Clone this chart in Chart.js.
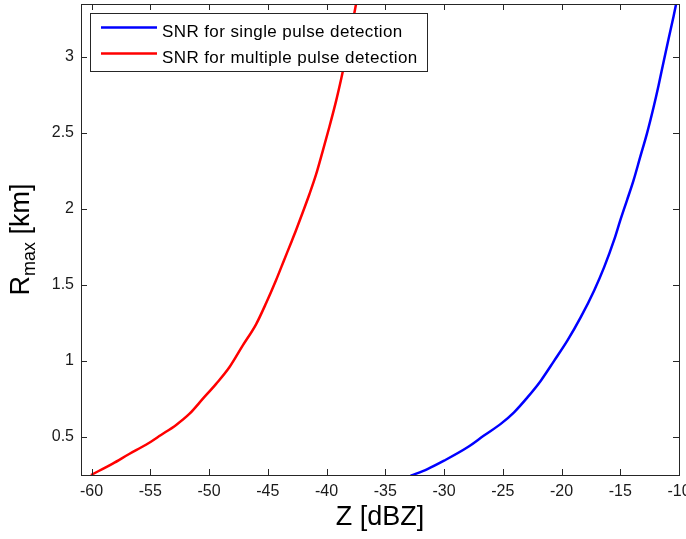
<!DOCTYPE html>
<html>
<head>
<meta charset="utf-8">
<script src="https://cdn.jsdelivr.net/npm/chart.js@4.4.1/dist/chart.umd.min.js"></script>
<style>
    html, body { margin: 0; padding: 0; background: #fff; }
    #wrap { width: 686px; height: 539px; }
</style>
</head>
<body>
<div id="wrap"><canvas id="chartRmax"></canvas></div>
<script>
// Curva azul: SNR para detección de pulso simple (Z en dBZ, R en km)
const zSingle = [-32.84, -31.41, -30.0, -28.0, -26.6, -25.17, -24.04, -22.9, -21.76, -20.63, -19.49, -18.36, -17.22, -16.37, -15.5, -15.0, -14.43, -13.87, -13.3, -12.73, -12.16, -11.74, -11.31, -10.89, -10.46, -10.1];
const rSingle = [0.245, 0.289, 0.344, 0.432, 0.509, 0.586, 0.662, 0.76, 0.87, 1.0, 1.134, 1.287, 1.463, 1.616, 1.80, 1.923, 2.055, 2.186, 2.34, 2.493, 2.668, 2.81, 2.966, 3.115, 3.265, 3.40];

// Curva roja: SNR para detección de pulsos múltiples
const zMultiple = [-60.05, -58.2, -56.8, -55.37, -54.09, -52.8, -51.68, -50.54, -49.4, -48.27, -47.14, -46.0, -45.14, -44.3, -43.6, -43.0, -42.59, -42.03, -41.46, -40.89, -40.32, -39.75, -39.18, -38.76, -38.4, -37.77, -37.45];
const rMultiple = [0.25, 0.325, 0.388, 0.449, 0.513, 0.579, 0.651, 0.75, 0.849, 0.958, 1.10, 1.24, 1.38, 1.53, 1.665, 1.78, 1.86, 1.975, 2.095, 2.225, 2.38, 2.54, 2.71, 2.85, 2.98, 3.23, 3.36];

// Ticks de los ejes
const xTickValues = [-60, -55, -50, -45, -40, -35, -30, -25, -20, -15, -10];
const yTickValues = [0.5, 1, 1.5, 2, 2.5, 3];

const labelSingle = 'SNR for single pulse detection';
const labelMultiple = 'SNR for multiple pulse detection';

const FONT = 'Liberation Sans, Arial, Helvetica, sans-serif';
const AXIS_COLOR = '#262626';

// Marco tipo MATLAB: caja, ticks hacia adentro, leyenda y título Y con subíndice
const marcoEjes = {
    id: 'marcoEjes',
    afterDatasetsDraw(chart) {
        const { ctx, chartArea: a, scales } = chart;
        ctx.save();
        ctx.strokeStyle = AXIS_COLOR;
        ctx.lineWidth = 1;
        ctx.strokeRect(a.left + 0.5, a.top + 0.5, a.right - a.left, a.bottom - a.top);

        ctx.beginPath();
        scales.x.ticks.forEach(t => {
            const px = Math.round(scales.x.getPixelForValue(t.value)) + 0.5;
            ctx.moveTo(px, a.bottom);
            ctx.lineTo(px, a.bottom - 6);
            ctx.moveTo(px, a.top);
            ctx.lineTo(px, a.top + 6);
        });
        scales.y.ticks.forEach(t => {
            const py = Math.round(scales.y.getPixelForValue(t.value)) + 0.5;
            ctx.moveTo(a.left, py);
            ctx.lineTo(a.left + 6, py);
            ctx.moveTo(a.right, py);
            ctx.lineTo(a.right - 6, py);
        });
        ctx.stroke();

        // Leyenda (caja opaca sobre el área de datos)
        const lx = 90.5, ly = 13.5, lw = 337, lh = 58;
        ctx.fillStyle = '#fff';
        ctx.fillRect(lx, ly, lw, lh);
        ctx.strokeRect(lx, ly, lw, lh);
        const rows = [27.5, 53.5];
        chart.data.datasets.forEach((ds, i) => {
            ctx.beginPath();
            ctx.strokeStyle = ds.borderColor;
            ctx.lineWidth = 2.5;
            ctx.moveTo(101, rows[i]);
            ctx.lineTo(157, rows[i]);
            ctx.stroke();
            ctx.fillStyle = '#000';
            ctx.font = `17px ${FONT}`;
            ctx.letterSpacing = '0.4px';
            ctx.textAlign = 'left';
            ctx.textBaseline = 'alphabetic';
            ctx.fillText(ds.label, 162, rows[i] + 9);
            ctx.letterSpacing = '0px';
        });

        // Título eje Y: R_max [km]
        const cy = (a.top + a.bottom) / 2;
        ctx.translate(29, cy);
        ctx.rotate(-Math.PI / 2);
        ctx.fillStyle = '#000';
        ctx.textBaseline = 'alphabetic';
        ctx.textAlign = 'left';
        ctx.font = `27px ${FONT}`;
        const wR = ctx.measureText('R').width;
        const wKm = ctx.measureText(' [km]').width;
        ctx.font = `18px ${FONT}`;
        const wMax = ctx.measureText('max').width;
        let x0 = -(wR + wMax + wKm) / 2;
        ctx.font = `27px ${FONT}`;
        ctx.fillText('R', x0, 0);
        ctx.font = `18px ${FONT}`;
        ctx.fillText('max', x0 + wR, 6);
        ctx.font = `27px ${FONT}`;
        ctx.fillText(' [km]', x0 + wR + wMax, 0);
        ctx.restore();
    }
};

const ctx = document.getElementById('chartRmax').getContext('2d');
const chart = new Chart(ctx, {
    type: 'scatter',
    data: {
        datasets: [
            {
                label: labelSingle,
                data: zSingle.map((z, i) => ({ x: z, y: rSingle[i] })),
                showLine: true,
                borderColor: '#0000ff',
                backgroundColor: '#0000ff',
                borderWidth: 2.5,
                pointRadius: 0,
                cubicInterpolationMode: 'monotone'
            },
            {
                label: labelMultiple,
                data: zMultiple.map((z, i) => ({ x: z, y: rMultiple[i] })),
                showLine: true,
                borderColor: '#ff0000',
                backgroundColor: '#ff0000',
                borderWidth: 2.5,
                pointRadius: 0,
                cubicInterpolationMode: 'monotone'
            }
        ]
    },
    options: {
        responsive: true,
        maintainAspectRatio: false,
        animation: false,
        layout: {
            padding: { top: 4, right: 7, left: 0, bottom: 0 }
        },
        plugins: {
            legend: { display: false },
            tooltip: { enabled: false }
        },
        scales: {
            x: {
                type: 'linear',
                min: -60.9,
                max: -10,
                afterBuildTicks: scale => {
                    scale.ticks = xTickValues.map(v => ({ value: v }));
                },
                afterFit: scale => {
                    scale.height = 64;
                    scale.paddingLeft = 0;
                    scale.paddingRight = 0;
                },
                grid: { display: false, drawTicks: false },
                border: { display: false },
                ticks: {
                    padding: 7,
                    color: '#1a1a1a',
                    font: { family: FONT, size: 16 }
                },
                title: {
                    display: true,
                    text: 'Z [dBZ]',
                    color: '#000',
                    padding: { top: 0, bottom: 5 },
                    font: { family: FONT, size: 27 }
                }
            },
            y: {
                type: 'linear',
                min: 0.25,
                max: 3.345,
                afterBuildTicks: scale => {
                    scale.ticks = yTickValues.map(v => ({ value: v }));
                },
                afterFit: scale => {
                    scale.width = 81;
                    scale.paddingTop = 0;
                    scale.paddingBottom = 0;
                },
                grid: { display: false, drawTicks: false },
                border: { display: false },
                ticks: {
                    padding: 7,
                    color: '#1a1a1a',
                    font: { family: FONT, size: 16 },
                    callback: v => String(v)
                }
            }
        }
    },
    plugins: [marcoEjes]
});
</script>
</body>
</html>
